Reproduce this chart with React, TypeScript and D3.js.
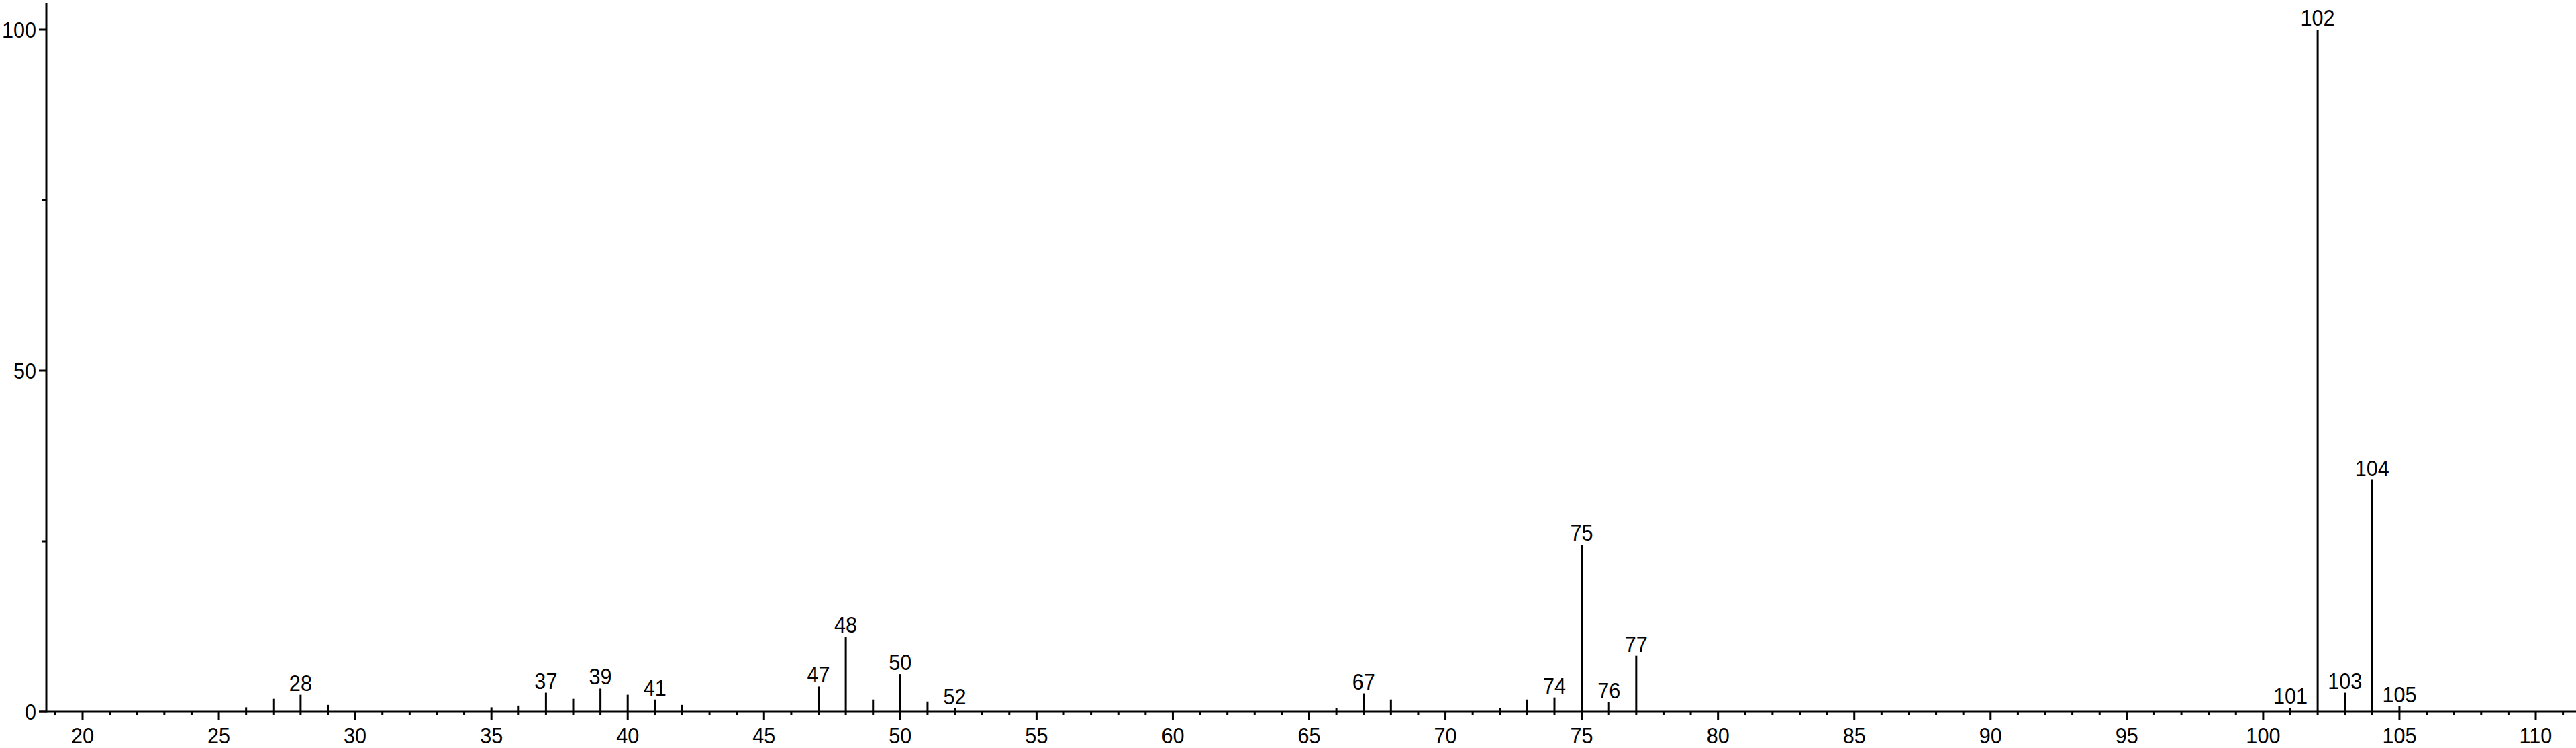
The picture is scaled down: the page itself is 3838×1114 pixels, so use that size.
import React from "react";
import * as d3 from "d3";

const mzValues = [26, 27, 28, 29, 35, 36, 37, 38, 39, 40, 41, 42, 47, 48, 49, 50, 51, 52, 66, 67, 68, 72, 73, 74, 75, 76, 77, 101, 102, 103, 104, 105];
const intensities = [0.65, 1.9, 2.5, 1.0, 0.65, 0.9, 2.8, 1.9, 3.4, 2.5, 1.8, 1.0, 3.7, 11.0, 1.8, 5.5, 1.5, 0.5, 0.5, 2.7, 1.8, 0.5, 1.8, 2.1, 24.5, 1.4, 8.2, 0.55, 100, 2.8, 34.0, 0.8];
const labeledPeaks = [28, 37, 39, 41, 47, 48, 50, 52, 67, 74, 75, 76, 77, 101, 102, 103, 104, 105];
const xTickLabels = [20, 25, 30, 35, 40, 45, 50, 55, 60, 65, 70, 75, 80, 85, 90, 95, 100, 105, 110];
const yTickLabels = [0, 50, 100];
const yMinorTicks = [25, 75];

const W = 3838;
const H = 1114;
const FONT = "'Liberation Sans', Arial, Helvetica, sans-serif";
const SX = 0.9;

function Label({ x, y, anchor, children }: { x: number; y: number; anchor: string; children: any }) {
  return (
    <text
      transform={`translate(${x},${y}) scale(${SX},1)`}
      textAnchor={anchor}
      fontFamily={FONT}
      fontSize={34}
      fill="#000"
    >
      {children}
    </text>
  );
}

export default function App() {
  const x = d3.scaleLinear().domain([20, 110]).range([123, 3778]);
  const y = d3.scaleLinear().domain([0, 100]).range([1060, 44]);
  const axisX = 69;
  const axisY = y(0);
  const xMinStart = Math.ceil(x.invert(axisX));
  const xMaxEnd = Math.floor(x.invert(W));
  const minorX = d3.range(xMinStart, xMaxEnd + 1);
  const peaks = mzValues.map((m, i) => ({ mz: m, v: intensities[i] }));
  const sw = 3;

  return (
    <svg width={W} height={H} style={{ position: "absolute", left: 0, top: 0, background: "#fff" }}>
      <rect x={0} y={0} width={W} height={H} fill="#fff" />
      {minorX.map((m) => (
        <line key={"mt" + m} x1={x(m)} x2={x(m)} y1={axisY} y2={axisY + (m % 5 === 0 ? 12 : 5)} stroke="#000" strokeWidth={sw} />
      ))}
      {xTickLabels.map((t) => (
        <Label key={"xl" + t} x={x(t)} y={1107} anchor="middle">
          {t}
        </Label>
      ))}
      {peaks.map((p) => (
        <line key={"pk" + p.mz} x1={x(p.mz)} x2={x(p.mz)} y1={axisY} y2={y(p.v)} stroke="#000" strokeWidth={sw} />
      ))}
      {peaks
        .filter((p) => labeledPeaks.includes(p.mz))
        .map((p) => (
          <Label key={"pl" + p.mz} x={x(p.mz)} y={y(p.v) - 6} anchor="middle">
            {p.mz}
          </Label>
        ))}
      <line x1={axisX} x2={axisX} y1={4} y2={axisY + 1.5} stroke="#000" strokeWidth={sw} />
      <line x1={58} x2={W} y1={axisY} y2={axisY} stroke="#000" strokeWidth={sw} />
      {yTickLabels.map((t) => (
        <g key={"yt" + t}>
          <line x1={58} x2={axisX} y1={y(t)} y2={y(t)} stroke="#000" strokeWidth={sw} />
          <Label x={54} y={y(t) + 12} anchor="end">
            {t}
          </Label>
        </g>
      ))}
      {yMinorTicks.map((t) => (
        <line key={"ym" + t} x1={63} x2={axisX} y1={y(t)} y2={y(t)} stroke="#000" strokeWidth={sw} />
      ))}
    </svg>
  );
}
